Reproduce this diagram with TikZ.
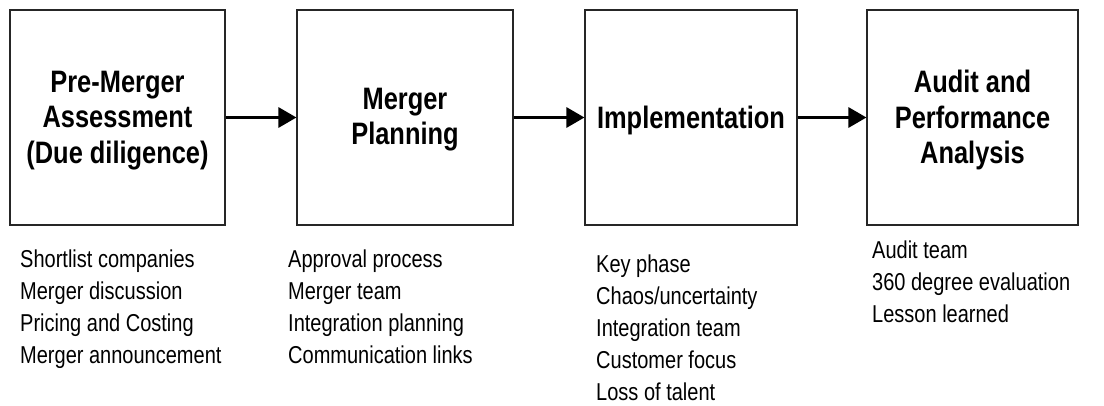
\documentclass[tikz,border=0pt]{standalone}
\usepackage{fontspec}
\setmainfont[FakeStretch=0.82]{Liberation Sans}
\usetikzlibrary{arrows.meta}
\begin{document}
\begin{tikzpicture}[x=1pt,y=-1pt,
  stage/.style={draw=black!85, line width=1.1pt, inner sep=0pt, minimum height=215pt},
  title/.style={inner sep=0pt, align=center, font=\fontsize{31}{35.5}\selectfont\bfseries},
  flow/.style={line width=3pt, -{Triangle[length=18pt,width=20pt]}},
  items/.style={anchor=base west, inner sep=0pt, align=left,
    font=\fontsize{24.4}{32}\selectfont}]
\useasboundingbox (0,0) rectangle (1104,405);
\node[stage, minimum width=215pt] (b1) at (117.5,117.5) {};
\node[stage, minimum width=216pt] (b2) at (405,117.5) {};
\node[stage, minimum width=212pt] (b3) at (691,117.5) {};
\node[stage, minimum width=211pt] (b4) at (972.5,117.5) {};
\node[title] (l1) at (117.5,120.5) {Pre-Merger\\Assessment\\(Due diligence)};
\node[title] (l2) at (405,119.5) {Merger\\Planning};
\node[title] (l3) at (691,120) {Implementation};
\node[title] (l4) at (972.5,120) {Audit and\\Performance\\Analysis};
\draw[flow] (b1.east) -- (b2.west);
\draw[flow] (b2.east) -- (b3.west);
\draw[flow] (b3.east) -- (b4.west);
\node[items] (t1) at (20,363) {Shortlist companies\\Merger discussion\\Pricing and Costing\\Merger announcement};
\node[items] (t2) at (288,363) {Approval process\\Merger team\\Integration planning\\Communication links};
\node[items] (t3) at (596,400) {Key phase\\Chaos/uncertainty\\Integration team\\Customer focus\\Loss of talent};
\node[items] (t4) at (872,322) {Audit team\\360 degree evaluation\\Lesson learned};
\end{tikzpicture}
\end{document}
